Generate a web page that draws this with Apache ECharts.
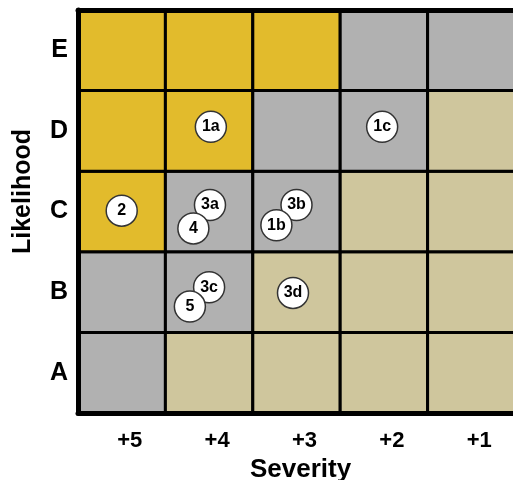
<!DOCTYPE html>
<html>
<head>
<meta charset="utf-8">
<script src="https://cdn.jsdelivr.net/npm/echarts@6/dist/echarts.min.js"></script>
<style>
  html, body { margin: 0; padding: 0; background: #fff; }
  #chart { width: 513px; height: 480px; }
</style>
</head>
<body>
<div id="chart"></div>
<script>
// axis labels
const severityLabels = ['+5', '+4', '+3', '+2', '+1'];
const likelihoodLabels = ['A', 'B', 'C', 'D', 'E'];

// risk level per cell, rows A..E, columns +5..+1 (0 low, 1 medium, 2 high)
const rowA = [1, 0, 0, 0, 0];
const rowB = [1, 1, 0, 0, 0];
const rowC = [2, 1, 1, 0, 0];
const rowD = [2, 2, 1, 1, 0];
const rowE = [2, 2, 2, 1, 1];
const riskRows = [rowA, rowB, rowC, rowD, rowE];

// items plotted in the matrix (x: 0 = +5 column edge, y: 0 = bottom of A)
const itemNames = ['1a', '1c', '2', '3a', '3b', '3c', '3d', '4', '1b', '5'];
const itemX = [1.52, 3.48, 0.50, 1.51, 2.50, 1.50, 2.46, 1.32, 2.27, 1.28];
const itemY = [3.55, 3.55, 2.51, 2.58, 2.58, 1.56, 1.49, 2.29, 2.33, 1.32];

const levelColors = ['#cfc69d', '#b1b1b1', '#e2bb2c'];
const font = 'Liberation Sans, Arial, sans-serif';

let cells = [];
riskRows.forEach((row, r) => {
  row.forEach((lvl, c) => {
    cells.push([c, r, lvl]);
  });
});

let points = itemNames.map((n, i) => ({ name: n, value: [itemX[i], itemY[i]] }));

let myChart = echarts.init(document.getElementById('chart'));
let option = {
  animation: false,
  grid: { left: 78, right: -2, top: 10, bottom: 67, outerBoundsMode: 'none' },
  xAxis: [
    {
      type: 'category',
      data: severityLabels,
      position: 'bottom',
      z: 10,
      name: 'Severity',
      nameLocation: 'middle',
      nameGap: 42,
      nameTextStyle: { fontFamily: font, fontWeight: 'bold', fontSize: 26, color: '#000', padding: [0, 0, 0, 8] },
      axisLine: { lineStyle: { color: '#000', width: 5 } },
      axisTick: { show: false },
      splitLine: { show: false },
      axisLabel: { fontFamily: font, fontWeight: 'bold', fontSize: 22, color: '#000', margin: 17, padding: [0, 0, 0, 16] }
    },
    {
      type: 'value',
      min: 0,
      max: 5,
      position: 'top',
      z: 10,
      axisLine: { show: true, lineStyle: { color: '#000', width: 5 } },
      axisTick: { show: false },
      axisLabel: { show: false },
      splitLine: { show: false }
    }
  ],
  yAxis: [
    {
      type: 'category',
      data: likelihoodLabels,
      position: 'left',
      z: 10,
      name: 'Likelihood',
      nameLocation: 'middle',
      nameRotate: 90,
      nameGap: 42,
      nameTextStyle: { fontFamily: font, fontWeight: 'bold', fontSize: 25, color: '#000', padding: [0, 0, 0, 40] },
      axisLine: { lineStyle: { color: '#000', width: 5 } },
      axisTick: { show: false },
      splitLine: { show: false },
      axisLabel: { fontFamily: font, fontWeight: 'bold', fontSize: 25, color: '#000', margin: 10 }
    },
    {
      type: 'value',
      min: 0,
      max: 5,
      show: false
    }
  ],
  series: [
    {
      type: 'custom',
      xAxisIndex: 1,
      yAxisIndex: 1,
      data: cells,
      renderItem: function (params, api) {
        let c = api.value(0), r = api.value(1);
        let p0 = api.coord([c, r + 1]);
        let p1 = api.coord([c + 1, r]);
        return {
          type: 'rect',
          shape: { x: p0[0], y: p0[1], width: p1[0] - p0[0], height: p1[1] - p0[1] },
          style: { fill: levelColors[api.value(2)], stroke: '#000', lineWidth: 3 }
        };
      }
    },
    {
      type: 'scatter',
      xAxisIndex: 1,
      yAxisIndex: 1,
      symbol: 'circle',
      symbolSize: 31,
      z: 5,
      data: points,
      itemStyle: { color: '#fff', borderColor: '#333', borderWidth: 1.5, opacity: 1 },
      label: {
        show: true,
        position: 'inside',
        formatter: '{b}',
        fontFamily: font,
        fontSize: 16,
        fontWeight: 'bold',
        color: '#000'
      }
    }
  ]
};
myChart.setOption(option, true);
</script>
</body>
</html>
